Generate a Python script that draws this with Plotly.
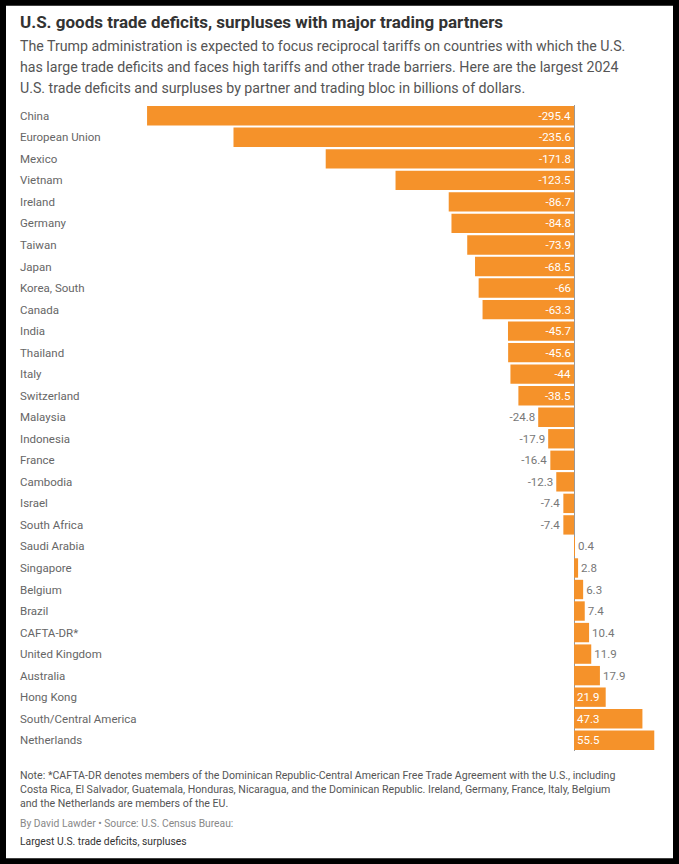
import plotly.graph_objects as go

# -----------------------------------
# Data
# -----------------------------------

partners = [
    "China", "European Union", "Mexico", "Vietnam", "Ireland", "Germany",
    "Taiwan", "Japan", "Korea, South", "Canada", "India", "Thailand", "Italy",
    "Switzerland", "Malaysia", "Indonesia", "France", "Cambodia", "Israel",
    "South Africa", "Saudi Arabia", "Singapore", "Belgium", "Brazil",
    "CAFTA-DR*", "United Kingdom", "Australia", "Hong Kong",
    "South/Central America", "Netherlands"
]

balance = [
    -295.4, -235.6, -171.8, -123.5, -86.7, -84.8, -73.9, -68.5, -66, -63.3,
    -45.7, -45.6, -44, -38.5, -24.8, -17.9, -16.4, -12.3, -7.4, -7.4,
    0.4, 2.8, 6.3, 7.4, 10.4, 11.9, 17.9, 21.9, 47.3, 55.5
]

title = "U.S. goods trade deficits, surpluses with major trading partners"

subtitle_lines = [
    "The Trump administration is expected to focus reciprocal tariffs on countries with which the U.S.",
    "has large trade deficits and faces high tariffs and other trade barriers. Here are the largest 2024",
    "U.S. trade deficits and surpluses by partner and trading bloc in billions of dollars."
]

note = (
    "Note: *CAFTA-DR denotes members of the Dominican Republic-Central American Free Trade Agreement with the U.S., including<br>"
    "Costa Rica, El Salvador, Guatemala, Honduras, Nicaragua, and the Dominican Republic. Ireland, Germany, France, Italy, Belgium<br>"
    "and the Netherlands are members of the EU."
)

byline = "By David Lawder \u2022 Source: U.S. Census Bureau:"
link_text = "Largest U.S. trade deficits, surpluses"

FONT = "Roboto"
ORANGE = "#F5922A"

W, H = 679, 864

# -----------------------------------
# Label placement
# -----------------------------------

# long bars carry their value inside, short ones outside
positions = [
    "inside" if (v <= -30 or v >= 20) else "outside"
    for v in balance
]

labels = [f"{v:g}" for v in balance]

# -----------------------------------
# Figure
# -----------------------------------

fig = go.Figure()

fig.add_trace(

    go.Bar(

        x=balance,

        y=partners,

        orientation="h",

        marker=dict(color=ORANGE, line=dict(width=0)),

        text=labels,

        textposition=positions,

        insidetextanchor="start",

        insidetextfont=dict(color="white", size=11.5, family=FONT),

        outsidetextfont=dict(color="#777777", size=11.5, family=FONT),

        constraintext="none",

        cliponaxis=False,

        textangle=0,

        hoverinfo="skip"

    )

)

# category labels on the left edge
for name in partners:

    fig.add_annotation(

        x=0,

        xref="paper",

        y=name,

        yref="y",

        text=name,

        showarrow=False,

        xanchor="left",

        xshift=-2,

        font=dict(family=FONT, size=11.5, color="#666666")

    )

# -----------------------------------
# Text blocks
# -----------------------------------

def px_x(v):
    return (v - 20) / (668 - 20)


def px_y(v):
    return 1 - (v - 105.25) / (750.75 - 105.25)


fig.add_annotation(
    x=px_x(18), y=px_y(22), xref="paper", yref="paper",
    text=f"<b>{title}</b>", showarrow=False, xanchor="left", yanchor="middle",
    font=dict(family=FONT, size=17, color="#333333")
)

for i, line in enumerate(subtitle_lines):

    fig.add_annotation(
        x=px_x(18), y=px_y(46 + i * 21), xref="paper", yref="paper",
        text=line, showarrow=False, xanchor="left", yanchor="middle",
        font=dict(family=FONT, size=14.2, color="#555555")
    )

fig.add_annotation(
    x=px_x(18), y=px_y(789), xref="paper", yref="paper",
    text=note, showarrow=False, xanchor="left", yanchor="middle", align="left",
    font=dict(family=FONT, size=10.6, color="#555555")
)

fig.add_annotation(
    x=px_x(18), y=px_y(823), xref="paper", yref="paper",
    text=byline, showarrow=False, xanchor="left", yanchor="middle",
    font=dict(family=FONT, size=10.3, color="#888888")
)

fig.add_annotation(
    x=px_x(18), y=px_y(841), xref="paper", yref="paper",
    text=link_text, showarrow=False, xanchor="left", yanchor="middle",
    font=dict(family=FONT, size=10.3, color="#333333")
)

# white card inside black frame
fig.add_shape(
    type="rect", xref="paper", yref="paper", layer="below",
    x0=px_x(6), x1=px_x(673), y0=px_y(858), y1=px_y(6),
    fillcolor="white", line=dict(width=0)
)

# -----------------------------------
# Layout
# -----------------------------------

fig.update_layout(

    width=W,

    height=H,

    margin=dict(l=20, r=W - 668, t=105.25, b=H - 750.75),

    paper_bgcolor="black",

    plot_bgcolor="rgba(0,0,0,0)",

    bargap=0.1,

    showlegend=False,

    font=dict(family=FONT),

    xaxis=dict(
        range=[-383.3, 65],
        showgrid=False,
        showticklabels=False,
        zeroline=True,
        zerolinecolor="#999999",
        zerolinewidth=1,
        fixedrange=True
    ),

    yaxis=dict(
        autorange="reversed",
        showticklabels=False,
        showgrid=False,
        zeroline=False,
        fixedrange=True
    )

)

fig.write_html(
    "out.html",
    config={"displayModeBar": False},
    post_script="document.body.style.margin='0';document.body.style.overflow='hidden';"
)
